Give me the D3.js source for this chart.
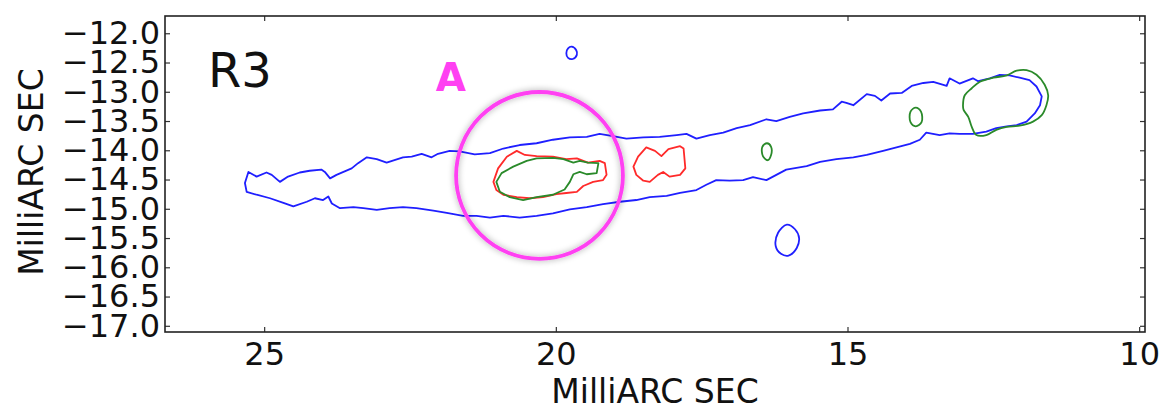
<!DOCTYPE html>
<html>
<head>
<meta charset="utf-8">
<script src="https://cdn.jsdelivr.net/npm/d3@7"></script>
<style>
  body { margin: 0; background: #fff; }
  svg { font-family: 'DejaVu Sans', sans-serif; }
</style>
</head>
<body>
<div id="chart"></div>
<script>
// contour levels, [x mas, y mas]
const blueJet = [
  [25.33, -14.56], [25.27, -14.37], [25.13, -14.45], [24.96, -14.38], [24.87, -14.42],
  [24.73, -14.54], [24.59, -14.45], [24.39, -14.38], [24.22, -14.35], [24.02, -14.33],
  [23.96, -14.37], [23.87, -14.48], [23.76, -14.42], [23.50, -14.31], [23.39, -14.22],
  [23.24, -14.12], [23.07, -14.15], [22.90, -14.21], [22.62, -14.12], [22.47, -14.11],
  [22.30, -14.06], [22.13, -14.12], [22.02, -14.06], [21.82, -14.01], [21.65, -14.02],
  [21.39, -14.07], [21.13, -14.05], [20.90, -13.97], [20.62, -13.91], [20.33, -13.88],
  [20.05, -13.82], [19.76, -13.78], [19.47, -13.77], [19.25, -13.72], [19.02, -13.76],
  [18.79, -13.80], [18.50, -13.78], [18.22, -13.77], [17.93, -13.74], [17.76, -13.72],
  [17.59, -13.80], [17.36, -13.74], [17.13, -13.70], [16.90, -13.62], [16.67, -13.57],
  [16.39, -13.47], [16.22, -13.50], [15.99, -13.43], [15.76, -13.37], [15.47, -13.32],
  [15.25, -13.30], [15.10, -13.17], [15.02, -13.19], [14.90, -13.23], [14.67, -13.04],
  [14.53, -13.07], [14.42, -13.15], [14.27, -13.03], [14.07, -13.02], [13.90, -12.90],
  [13.70, -12.85], [13.53, -12.83], [13.30, -12.90], [13.25, -12.77], [13.08, -12.86],
  [12.85, -12.77], [12.76, -12.82], [12.56, -12.77], [12.39, -12.71], [12.22, -12.72],
  [12.05, -12.76], [11.88, -12.80], [11.76, -12.91], [11.67, -13.08], [11.70, -13.23],
  [11.79, -13.37], [11.93, -13.51], [12.10, -13.57], [12.27, -13.59], [12.45, -13.62],
  [12.62, -13.68], [12.85, -13.72], [13.08, -13.72], [13.25, -13.71], [13.42, -13.74],
  [13.65, -13.70], [13.76, -13.82], [13.93, -13.89], [14.16, -13.95], [14.39, -14.01],
  [14.67, -14.08], [14.90, -14.12], [15.19, -14.15], [15.47, -14.20], [15.70, -14.27],
  [16.05, -14.33], [16.22, -14.42], [16.39, -14.51], [16.62, -14.46], [16.79, -14.51],
  [17.02, -14.52], [17.25, -14.51], [17.42, -14.59], [17.59, -14.68], [17.87, -14.73],
  [18.10, -14.78], [18.39, -14.80], [18.62, -14.85], [18.90, -14.88], [19.19, -14.92],
  [19.47, -14.97], [19.76, -15.01], [20.05, -15.08], [20.33, -15.12], [20.62, -15.15],
  [20.90, -15.12], [21.13, -15.15], [21.36, -15.12], [21.59, -15.12], [21.87, -15.07],
  [22.10, -15.03], [22.39, -14.99], [22.62, -14.97], [22.85, -14.99], [23.07, -15.02],
  [23.30, -14.99], [23.47, -14.97], [23.70, -14.99], [23.84, -14.91], [23.90, -14.79],
  [23.99, -14.85], [24.13, -14.82], [24.27, -14.88], [24.50, -14.96], [24.67, -14.90],
  [24.90, -14.82], [25.13, -14.76], [25.30, -14.71]
]
const blueSpotNorth = [
  [19.73, -12.23], [19.65, -12.29], [19.64, -12.37], [19.71, -12.44],
  [19.79, -12.42], [19.82, -12.34], [19.79, -12.26]
]
const blueSpotSouth = [
  [16.04, -15.27], [15.90, -15.35], [15.83, -15.50], [15.87, -15.67],
  [16.01, -15.80], [16.14, -15.77], [16.23, -15.64], [16.19, -15.41]
]
const redCore = [
  [21.07, -14.54], [20.99, -14.31], [20.84, -14.11], [20.67, -14.01], [20.53, -14.08],
  [20.33, -14.10], [20.05, -14.11], [19.82, -14.15], [19.64, -14.14], [19.45, -14.21],
  [19.25, -14.18], [19.16, -14.22], [19.13, -14.42], [19.19, -14.51], [19.36, -14.54],
  [19.53, -14.61], [19.64, -14.71], [19.82, -14.73], [19.99, -14.75], [20.22, -14.80],
  [20.45, -14.82], [20.67, -14.80], [20.90, -14.76], [21.02, -14.68]
]
const redKnot = [
  [18.67, -14.28], [18.59, -14.11], [18.45, -13.95], [18.30, -14.01], [18.19, -14.10],
  [18.07, -13.98], [17.87, -13.93], [17.81, -13.97], [17.78, -14.31], [17.87, -14.42],
  [18.05, -14.45], [18.16, -14.37], [18.25, -14.42], [18.39, -14.54], [18.50, -14.52],
  [18.62, -14.42]
]
const greenCore = [
  [21.02, -14.54], [20.93, -14.39], [20.73, -14.28], [20.50, -14.18], [20.33, -14.14],
  [20.05, -14.13], [19.87, -14.15], [19.70, -14.21], [19.59, -14.18], [19.45, -14.21],
  [19.27, -14.22], [19.30, -14.39], [19.47, -14.41], [19.59, -14.37], [19.70, -14.41],
  [19.76, -14.54], [19.85, -14.67], [20.05, -14.76], [20.33, -14.80], [20.56, -14.85],
  [20.79, -14.80], [20.96, -14.71]
]
const greenSpotA = [
  [16.38, -13.88], [16.31, -13.94], [16.31, -14.08], [16.37, -14.17], [16.45, -14.10], [16.46, -13.94]
]
const greenSpotB = [
  [13.83, -13.27], [13.74, -13.34], [13.73, -13.52], [13.83, -13.59], [13.92, -13.52], [13.92, -13.34]
]
const greenEnd = [
  [13.02, -13.23], [12.99, -13.06], [12.87, -12.94], [12.73, -12.83], [12.50, -12.76],
  [12.27, -12.72], [12.10, -12.64], [11.93, -12.63], [11.76, -12.71], [11.62, -12.88],
  [11.56, -13.06], [11.59, -13.23], [11.67, -13.40], [11.82, -13.51], [12.05, -13.58],
  [12.27, -13.60], [12.45, -13.65], [12.62, -13.74], [12.79, -13.74], [12.87, -13.60],
  [12.93, -13.43], [13.01, -13.31]
]
// marked region A: centre and radius in mas
const ringA = [20.28, -14.43, 1.43]
const xTicks = [25, 20, 15, 10]
const yTicks = [-12.0, -12.5, -13.0, -13.5, -14.0, -14.5, -15.0, -15.5, -16.0, -16.5, -17.0]

const width = 1167,
  height = 407
const margin = {top: 16, right: 22, bottom: 75, left: 165}
const w = width - margin.left - margin.right,
  h = height - margin.top - margin.bottom

const svg = d3.select('#chart')
  .append('svg')
  .attr('width', width)
  .attr('height', height)

const defs = svg.append('defs')
const glow = defs.append('filter')
  .attr('id', 'soft')
  .attr('x', '-20%').attr('y', '-20%')
  .attr('width', '140%').attr('height', '140%')
glow.append('feDropShadow')
  .attr('dx', 0).attr('dy', 0)
  .attr('stdDeviation', 3)
  .attr('flood-color', '#000')
  .attr('flood-opacity', 0.35)

const g = svg.append('g')
  .attr('transform', `translate(${margin.left}, ${margin.top})`)

// RA runs right to left
const x = d3.scaleLinear().domain([26.70, 9.90]).range([0, w])
const y = d3.scaleLinear().domain([-17.106, -11.705]).range([h, 0])

const line = d3.line()
  .x(d => x(d[0]))
  .y(d => y(d[1]))
  .curve(d3.curveLinearClosed)
const smooth = d3.line()
  .x(d => x(d[0]))
  .y(d => y(d[1]))
  .curve(d3.curveCatmullRomClosed)

const contours = [
  {pts: blueJet, color: '#1f1fff', path: line},
  {pts: blueSpotNorth, color: '#1f1fff', path: smooth},
  {pts: blueSpotSouth, color: '#1f1fff', path: smooth},
  {pts: redCore, color: '#ff2a2a', path: line},
  {pts: redKnot, color: '#ff2a2a', path: line},
  {pts: greenCore, color: '#2a8a2a', path: line},
  {pts: greenSpotA, color: '#2a8a2a', path: smooth},
  {pts: greenSpotB, color: '#2a8a2a', path: smooth},
  {pts: greenEnd, color: '#2a8a2a', path: smooth}
]

g.append('g')
  .attr('class', 'contours')
  .selectAll('path')
  .data(contours)
  .enter().append('path')
  .attr('d', d => d.path(d.pts))
  .attr('fill', 'none')
  .attr('stroke', d => d.color)
  .attr('stroke-width', 1.8)
  .attr('stroke-linejoin', 'round')

// axes, ticks pointing inward on all four sides
const fmt = d3.format('.1f')
const axisL = g.append('g')
  .call(d3.axisLeft(y).tickValues(yTicks).tickFormat(fmt).tickSize(-5).tickPadding(5))
const axisB = g.append('g')
  .attr('transform', `translate(0, ${h})`)
  .call(d3.axisBottom(x).tickValues(xTicks).tickFormat(d3.format('d')).tickSize(-5).tickPadding(10))
const axisR = g.append('g')
  .attr('transform', `translate(${w}, 0)`)
  .call(d3.axisRight(y).tickValues(yTicks).tickFormat('').tickSize(-5))
const axisT = g.append('g')
  .call(d3.axisTop(x).tickValues(xTicks).tickFormat('').tickSize(-5))

for (const a of [axisL, axisB, axisR, axisT]) {
  a.select('.domain').remove()
  a.selectAll('.tick line').attr('stroke', '#333').attr('stroke-width', 1.2)
  a.selectAll('.tick text')
    .attr('fill', '#111')
    .style('font-family', "'DejaVu Sans', sans-serif")
    .style('font-size', '32px')
}

g.append('rect')
  .attr('width', w)
  .attr('height', h)
  .attr('fill', 'none')
  .attr('stroke', '#222')
  .attr('stroke-width', 1.6)

g.append('text')
  .attr('x', w / 2)
  .attr('y', h + 71)
  .attr('text-anchor', 'middle')
  .attr('fill', '#111')
  .style('font-size', '33px')
  .text('MilliARC SEC')

g.append('text')
  .attr('transform', `translate(${43 - margin.left}, ${h / 2 - 2}) rotate(-90)`)
  .attr('text-anchor', 'middle')
  .attr('fill', '#111')
  .style('font-size', '33px')
  .text('MilliARC SEC')

g.append('text')
  .attr('x', 43)
  .attr('y', 71)
  .attr('fill', '#111')
  .style('font-size', '48px')
  .text('R3')

// region A highlight
g.append('circle')
  .attr('cx', x(ringA[0]))
  .attr('cy', y(ringA[1]))
  .attr('r', x(ringA[0] - ringA[2]) - x(ringA[0]))
  .attr('fill', 'none')
  .attr('stroke', '#ff40f2')
  .attr('stroke-width', 3.8)
  .attr('filter', 'url(#soft)')

g.append('text')
  .attr('x', x(21.80))
  .attr('y', y(-12.99))
  .attr('text-anchor', 'middle')
  .attr('fill', '#ff40f2')
  .style('font-size', '39px')
  .style('font-weight', 'bold')
  .text('A')
</script>
</body>
</html>
